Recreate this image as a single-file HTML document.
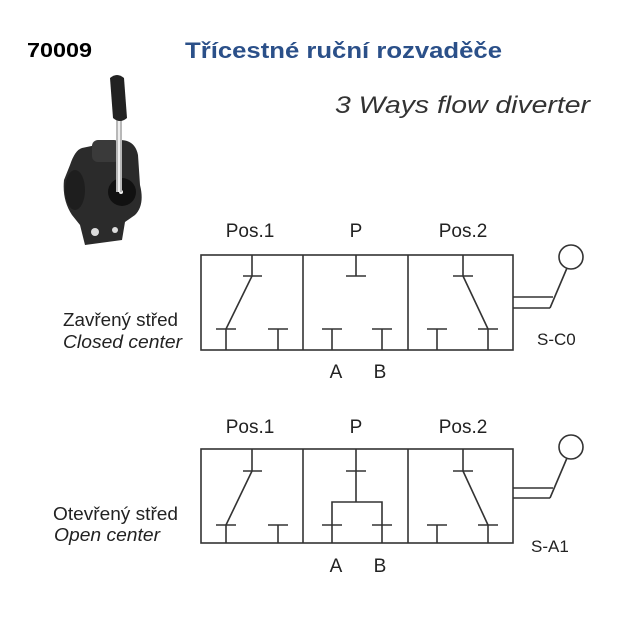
<!DOCTYPE html>
<html><head><meta charset="utf-8"><style>
html,body{margin:0;padding:0;background:#fff;}
svg{display:block;}
text{font-family:"Liberation Sans",sans-serif;}
</style></head><body>
<svg width="640" height="630" viewBox="0 0 640 630" xmlns="http://www.w3.org/2000/svg">
<rect width="640" height="630" fill="#fff"/>
<text x="27" y="57" font-size="20" font-weight="bold" fill="#000" textLength="65" lengthAdjust="spacingAndGlyphs">70009</text>
<text x="185" y="58" font-size="22" font-weight="bold" fill="#2b5089" textLength="317" lengthAdjust="spacingAndGlyphs">Třícestné ruční rozvaděče</text>
<text x="335" y="113" font-size="24" font-style="italic" fill="#333" textLength="255" lengthAdjust="spacingAndGlyphs">3 Ways flow diverter</text>

<!-- product photo -->
<g>
<path d="M82 148 L120 140 Q135 140 138 155 L140 185 Q145 205 135 215 L125 222 L122 240 L85 245 L80 225 L72 215 Q62 200 64 180 L70 165 Q75 150 82 148Z" fill="#2b2b2b"/>
<rect x="92" y="140" width="28" height="22" rx="6" fill="#3a3a3a"/>
<ellipse cx="75" cy="190" rx="10" ry="20" fill="#1e1e1e"/>
<circle cx="95" cy="232" r="4" fill="#ddd"/>
<circle cx="115" cy="230" r="3" fill="#ddd"/>
<circle cx="122" cy="192" r="14" fill="#111"/>
<circle cx="121" cy="192" r="2" fill="#eee"/>
<rect x="116" y="120" width="6" height="72" fill="#b8b8b8"/>
<rect x="118" y="120" width="2" height="72" fill="#eee"/>
<path d="M110 78 Q117 72 124 78 L127 118 Q120 124 113 118Z" fill="#222"/>
</g>

<text x="63" y="326" font-size="18" fill="#222" textLength="115" lengthAdjust="spacingAndGlyphs">Zavřený střed</text>
<text x="63" y="348" font-size="18" font-style="italic" fill="#222" textLength="119" lengthAdjust="spacingAndGlyphs">Closed center</text>
<text x="53" y="520" font-size="18" fill="#222" textLength="125" lengthAdjust="spacingAndGlyphs">Otevřený střed</text>
<text x="54" y="541" font-size="18" font-style="italic" fill="#222" textLength="106" lengthAdjust="spacingAndGlyphs">Open center</text>

<g stroke="#333" stroke-width="1.6" fill="none">
<!-- top diagram -->
<rect x="201" y="255" width="312" height="95"/>
<line x1="303" y1="255" x2="303" y2="350"/>
<line x1="408" y1="255" x2="408" y2="350"/>
<!-- pos1 -->
<line x1="252" y1="255" x2="252" y2="276"/><line x1="243" y1="276" x2="262" y2="276"/>
<line x1="252" y1="276" x2="226" y2="329"/>
<line x1="216" y1="329" x2="236" y2="329"/><line x1="226" y1="329" x2="226" y2="350"/>
<line x1="268" y1="329" x2="288" y2="329"/><line x1="278" y1="329" x2="278" y2="350"/>
<!-- mid -->
<line x1="356" y1="255" x2="356" y2="276"/><line x1="346" y1="276" x2="366" y2="276"/>
<line x1="322" y1="329" x2="342" y2="329"/><line x1="332" y1="329" x2="332" y2="350"/>
<line x1="372" y1="329" x2="392" y2="329"/><line x1="382" y1="329" x2="382" y2="350"/>
<!-- pos2 -->
<line x1="463" y1="255" x2="463" y2="276"/><line x1="453" y1="276" x2="473" y2="276"/>
<line x1="463" y1="276" x2="488" y2="329"/>
<line x1="427" y1="329" x2="447" y2="329"/><line x1="437" y1="329" x2="437" y2="350"/>
<line x1="478" y1="329" x2="498" y2="329"/><line x1="488" y1="329" x2="488" y2="350"/>
<!-- handle -->
<line x1="513" y1="297" x2="553" y2="297"/><line x1="513" y1="308" x2="550" y2="308"/>
<line x1="550" y1="308" x2="567" y2="268"/>
<circle cx="571" cy="257" r="12"/>

<!-- bottom diagram -->
<rect x="201" y="449" width="312" height="94"/>
<line x1="303" y1="449" x2="303" y2="543"/>
<line x1="408" y1="449" x2="408" y2="543"/>
<line x1="252" y1="449" x2="252" y2="471"/><line x1="243" y1="471" x2="262" y2="471"/>
<line x1="252" y1="471" x2="226" y2="525"/>
<line x1="216" y1="525" x2="236" y2="525"/><line x1="226" y1="525" x2="226" y2="543"/>
<line x1="268" y1="525" x2="288" y2="525"/><line x1="278" y1="525" x2="278" y2="543"/>
<line x1="356" y1="449" x2="356" y2="502"/><line x1="346" y1="471" x2="366" y2="471"/>
<polyline points="332,543 332,502 382,502 382,543"/>
<line x1="322" y1="525" x2="342" y2="525"/><line x1="372" y1="525" x2="392" y2="525"/>
<line x1="463" y1="449" x2="463" y2="471"/><line x1="453" y1="471" x2="473" y2="471"/>
<line x1="463" y1="471" x2="488" y2="525"/>
<line x1="427" y1="525" x2="447" y2="525"/><line x1="437" y1="525" x2="437" y2="543"/>
<line x1="478" y1="525" x2="498" y2="525"/><line x1="488" y1="525" x2="488" y2="543"/>
<line x1="513" y1="488" x2="553" y2="488"/><line x1="513" y1="498" x2="550" y2="498"/>
<line x1="550" y1="498" x2="567" y2="458"/>
<circle cx="571" cy="447" r="12"/>
</g>

<g font-size="19" fill="#222">
<text x="250" y="237" text-anchor="middle">Pos.1</text>
<text x="356" y="237" text-anchor="middle">P</text>
<text x="463" y="237" text-anchor="middle">Pos.2</text>
<text x="336" y="378" text-anchor="middle">A</text>
<text x="380" y="378" text-anchor="middle">B</text>
<text x="537" y="345" font-size="17">S-C0</text>
<text x="250" y="433" text-anchor="middle">Pos.1</text>
<text x="356" y="433" text-anchor="middle">P</text>
<text x="463" y="433" text-anchor="middle">Pos.2</text>
<text x="336" y="572" text-anchor="middle">A</text>
<text x="380" y="572" text-anchor="middle">B</text>
<text x="531" y="552" font-size="17">S-A1</text>
</g>
</svg>
</body></html>
